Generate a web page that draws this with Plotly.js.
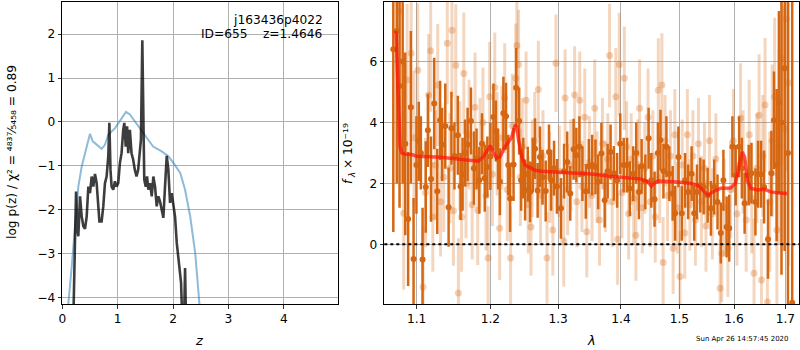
<!DOCTYPE html>
<html><head><meta charset="utf-8">
<script src="https://cdn.plot.ly/plotly-3.0.1.min.js"></script>
<style>html,body{margin:0;padding:0;background:#fff}#plot{width:800px;height:350px}</style>
</head><body><div id="plot"></div>
<script>
// ---- left panel: log p(z) ----
const pzZ = [0.199,0.217,0.248,0.271,0.289,0.32,0.35,0.38,0.41,0.44,0.47,0.50,0.53,0.56,0.59,0.62,0.65,0.67,0.71,0.74,0.77,0.80,0.83,0.85,0.87,0.89,0.92,0.95,0.98,1.01,1.04,1.07,1.10,1.12,1.145,1.17,1.19,1.22,1.25,1.28,1.31,1.34,1.37,1.40,1.42,1.445,1.463,1.48,1.507,1.53,1.554,1.585,1.615,1.644,1.675,1.705,1.735,1.765,1.796,1.825,1.855,1.886,1.915,1.946,1.976,2.006,2.036,2.067,2.096,2.127,2.145,2.168,2.198,2.217,2.235];
const pzLog = [-4.5,-3.21,-1.58,-2.45,-2.60,-1.69,-2.15,-2.37,-2.43,-2.15,-1.47,-1.62,-1.24,-1.47,-1.18,-1.39,-1.84,-2.26,-2.26,-1.92,-1.39,-1.24,-0.78,-0.02,-1.09,-1.47,-1.54,-1.35,-1.47,-1.39,-0.93,-0.71,-0.18,-0.02,-0.56,-0.10,-0.71,-0.18,-0.71,-0.86,-1.09,-1.24,-1.09,-0.56,-0.40,1.86,-0.40,-1.31,-1.47,-1.24,-1.54,-1.39,-1.69,-1.24,-1.47,-1.92,-1.69,-1.81,-2.0,-2.18,-1.47,-0.77,-1.09,-1.84,-1.62,-1.92,-2.15,-2.75,-3.13,-3.36,-3.66,-4.6,-4.6,-3.32,-4.6];
const priorZ = [0.08,0.108,0.17,0.229,0.289,0.35,0.41,0.47,0.50,0.549,0.62,0.71,0.77,0.83,0.952,1.073,1.15,1.22,1.31,1.40,1.52,1.64,1.795,1.915,2.006,2.13,2.217,2.31,2.40,2.475,2.52];
const priorLog = [-4.8,-4.14,-3.29,-2.37,-1.47,-1.01,-0.71,-0.40,-0.27,-0.44,-0.52,-0.61,-0.52,-0.29,-0.14,0.09,0.23,0.17,0.01,-0.14,-0.36,-0.56,-0.67,-0.78,-0.93,-1.16,-1.54,-2.15,-2.98,-4.14,-4.8];
const zTicks = [0,1,2,3,4];
const logTicks = [-4,-3,-2,-1,0,1,2];

// ---- right panel: spectrum ----
const darkLam = [1.0701,1.0745,1.078,1.082,1.0853,1.089,1.0925,1.096,1.0997,1.1028,1.1055,1.1077,1.1119,1.1147,1.1188,1.123,1.1271,1.1309,1.1336,1.1378,1.1423,1.1461,1.1502,1.1548,1.1585,1.1613,1.1647,1.1682,1.1728,1.1769,1.1806,1.1844,1.1882,1.1921,1.1958,1.2,1.2044,1.2078,1.211,1.2136,1.2186,1.2224,1.2256,1.2283,1.2333,1.2371,1.2415,1.2444,1.2476,1.2503,1.2542,1.2576,1.2616,1.265,1.2689,1.2723,1.2762,1.281,1.286,1.2893,1.2937,1.2981,1.3043,1.3091,1.3139,1.3187,1.3239,1.3282,1.333,1.3378,1.3431,1.3479,1.3533,1.3585,1.3629,1.3681,1.3734,1.3782,1.383,1.3884,1.3937,1.3989,1.4046,1.4102,1.4148,1.4204,1.4255,1.4301,1.4346,1.4409,1.4465,1.4511,1.4567,1.4625,1.4669,1.472,1.4772,1.4823,1.4881,1.4925,1.4983,1.5042,1.5102,1.5156,1.5218,1.5265,1.5315,1.5375,1.5436,1.5509,1.5569,1.5629,1.5691,1.5751,1.58,1.586,1.5909,1.5969,1.6031,1.6097,1.6148,1.6201,1.6279,1.6331,1.6409,1.646,1.6519,1.6577,1.6655,1.6721,1.6772,1.6825,1.687,1.6922,1.6986,1.7051,1.7137];
const darkFlux = [6.4,7.0,5.2,6.0,3.3,0.83,4.5,-0.48,2.6,3.38,3.0,-0.5,1.88,3.74,2.14,4.62,1.74,4.07,3.28,3.88,1.22,3.81,2.9,3.58,1.9,2.3,3.0,3.28,4.05,2.5,2.8,2.1,3.3,2.17,2.54,2.88,4.18,3.72,2.8,2.05,4.3,4.2,2.6,1.5,2.62,5.14,4.05,2.1,2.5,1.78,2.3,1.72,2.6,3.14,1.77,2.87,2.2,1.75,3.03,2.1,2.5,1.9,1.18,2.4,2.7,1.67,3.12,2.93,3.2,2.32,1.74,2.56,2.6,2.54,2.05,2.98,1.45,2.4,3.03,2.33,2.1,3.3,2.6,2.6,1.83,2.32,3.0,1.72,2.56,2.05,3.48,2.1,1.48,3.0,3.42,2.4,3.2,2.32,1.67,1.02,2.87,1.02,2.1,1.72,2.32,1.02,1.72,1.94,1.88,1.61,1.18,1.88,1.39,0.37,2.1,0.57,0.53,3.2,2.27,3.2,2.5,1.35,2.27,2.33,1.39,2.3,2.3,1.88,0.17,2.33,4.07,2.6,4.66,4.0,5.78,3.0,-1.92];
const darkErr = [6,5,4,4,3,2.2,2.5,2.0,1.6,1.3,1.2,1.7,1.5,1.2,1.4,1.5,1.4,1.3,1.2,1.4,1.3,1.2,1.1,1.3,1.1,1.2,1.1,1.2,1.1,1.2,1.0,1.1,1.0,1.1,1.0,1.1,1.1,1.0,1.0,1.1,1.2,1.1,1.0,1.1,1.2,1.3,1.1,1.0,1.0,1.0,0.9,1.0,0.9,1.0,0.9,1.0,0.9,1.0,0.9,1.0,0.9,0.9,1.0,0.9,1.0,0.9,1.0,0.9,1.0,0.9,0.9,0.9,1.0,0.9,0.9,1.0,0.9,0.9,0.9,0.9,0.9,1.0,0.9,0.9,0.9,0.9,1.0,0.9,0.9,0.9,1.0,0.9,0.9,1.0,1.0,0.9,1.0,0.9,0.9,0.9,1.0,0.9,0.9,0.9,0.9,0.9,0.9,0.9,0.9,0.9,0.9,0.9,0.9,1.0,1.0,1.0,1.1,1.0,1.0,1.0,1.0,1.0,1.0,1.0,1.1,1.1,1.1,1.2,1.3,1.4,1.6,2.5,3,5,6,9,12];

const lightLam = [1.078,1.0833,1.0877,1.0929,1.0965,1.1015,1.1083,1.1115,1.1156,1.1184,1.1212,1.1246,1.1277,1.1315,1.1357,1.1405,1.144,1.1468,1.1488,1.152,1.1556,1.1577,1.1599,1.163,1.166,1.1702,1.1745,1.1785,1.1822,1.1855,1.1896,1.1938,1.1968,1.199,1.2029,1.2063,1.2095,1.2132,1.2165,1.2205,1.2242,1.229,1.2315,1.2366,1.2381,1.2406,1.2432,1.2461,1.2517,1.2549,1.259,1.2608,1.2645,1.2699,1.2732,1.2769,1.283,1.2871,1.2918,1.2966,1.3019,1.3086,1.3107,1.3147,1.3195,1.3255,1.329,1.3335,1.337,1.3415,1.3447,1.349,1.353,1.3574,1.361,1.365,1.3698,1.3746,1.3785,1.3813,1.3856,1.3915,1.3945,1.3973,1.4017,1.4056,1.4094,1.4128,1.417,1.4213,1.425,1.4281,1.4312,1.4358,1.44,1.4455,1.4494,1.4537,1.4579,1.4632,1.4656,1.4693,1.4715,1.4749,1.4792,1.4843,1.489,1.492,1.4963,1.5011,1.5051,1.5096,1.5142,1.5187,1.5242,1.5287,1.5342,1.5396,1.5451,1.5478,1.5542,1.5596,1.566,1.5738,1.577,1.5815,1.5884,1.5933,1.5987,1.6055,1.6123,1.6172,1.623,1.6289,1.6337,1.6382,1.6435,1.648,1.6526,1.6552,1.6597,1.6643,1.6688,1.6737,1.6786,1.683,1.6874,1.6922,1.6971,1.702,1.706];
const lightFlux = [7.65,1.02,5.39,6.27,3.5,5.71,-1.4,1.7,4.9,6.35,0.9,2.6,5.23,1.4,2.2,6.6,2.5,7.03,1.1,5.88,-1.6,2.9,0.9,5.61,2.0,3.6,1.3,4.5,1.12,3.0,4.0,1.6,-0.45,4.84,2.3,5.15,3.3,0.53,3.5,4.8,1.8,-0.45,3.9,5.45,6.53,5.9,2.2,3.2,4.73,1.3,0.57,2.5,3.4,5.08,1.6,2.9,-0.45,2.2,0.47,5.94,2.4,0.11,4.8,1.8,2.6,4.9,1.4,4.73,1.9,4.17,0.41,2.7,1.6,4.47,2.2,0.8,3.3,1.9,2.8,6.2,1.4,4.84,0.17,5.9,1.7,5.45,3.2,1.0,2.8,1.5,0.3,2.6,4.47,1.2,2.5,4.17,1.4,2.9,0.9,5.06,2.2,5.23,-0.6,3.4,1.6,2.9,-0.13,3.6,1.2,-1.06,2.6,0.37,3.6,1.3,2.9,0.8,3.3,1.4,2.5,0.6,3.4,1.0,2.8,-1.44,-0.3,1.2,-0.13,1.8,3.4,1.0,4.14,2.7,0.8,3.6,1.5,-0.95,2.5,4.24,-1.17,2.9,4.57,-1.89,1.4,3.4,4.84,0.47,3.2,6.1,3.8,7.4,5.3];
const lightErr = [3,2.5,2.5,2.5,2.2,2.2,2.0,1.8,2.0,2.0,1.8,1.8,2.0,1.8,1.8,2.0,1.8,2.2,1.8,2.0,1.8,1.8,1.8,2.0,1.8,1.8,1.8,1.8,1.8,1.8,1.8,1.8,1.7,1.8,1.7,1.8,1.7,1.7,1.7,1.8,1.7,1.7,1.7,1.8,1.8,1.8,1.6,1.6,1.6,1.6,1.6,1.6,1.6,1.6,1.6,1.5,1.5,1.5,1.5,1.6,1.5,1.5,1.6,1.5,1.5,1.6,1.5,1.6,1.5,1.6,1.5,1.5,1.5,1.6,1.5,1.5,1.5,1.5,1.5,1.7,1.5,1.6,1.5,1.7,1.5,1.7,1.5,1.5,1.5,1.5,1.5,1.5,1.6,1.5,1.5,1.6,1.5,1.5,1.5,1.7,1.5,1.7,1.5,1.5,1.5,1.5,1.5,1.5,1.5,1.5,1.5,1.5,1.5,1.5,1.5,1.5,1.5,1.5,1.5,1.5,1.5,1.5,1.5,1.6,1.6,1.6,1.6,1.6,1.7,1.7,1.8,1.7,1.7,1.8,1.8,1.8,1.8,2.0,2.0,2.0,2.2,2.2,2.3,2.5,2.6,2.8,3.2,3.5,4,5,6];

const modelLam = [1.0735,1.0765,1.0787,1.0808,1.0844,1.0932,1.1,1.1322,1.1553,1.1829,1.1899,1.1968,1.2,1.204,1.2088,1.2136,1.2209,1.2259,1.2307,1.2356,1.2381,1.2406,1.2454,1.2503,1.2552,1.265,1.2747,1.2991,1.3255,1.3574,1.3788,1.4056,1.4341,1.4455,1.4511,1.4567,1.4625,1.4908,1.5205,1.5327,1.5447,1.552,1.56,1.5751,1.5933,1.6025,1.609,1.6156,1.6201,1.6253,1.6318,1.6448,1.6577,1.6708,1.6839,1.7035];
const modelFlux = [7.0,5.0,3.2,3.0,2.96,2.95,2.89,2.86,2.79,2.73,2.87,3.15,3.24,3.03,2.83,2.87,3.2,3.36,3.52,3.92,3.85,3.42,2.87,2.6,2.54,2.43,2.4,2.37,2.34,2.3,2.24,2.2,2.14,2.05,1.91,2.01,2.08,2.05,2.0,1.94,1.72,1.61,1.72,1.84,1.85,2.0,2.54,3.03,2.87,2.1,1.84,1.78,1.81,1.72,1.69,1.67];
const ZERO_LEVEL = 0;
const lamTicks = [1.1,1.2,1.3,1.4,1.5,1.6,1.7];
const fluxTicks = [0,2,4,6];

const objName = 'j163436p4022';
const objInfo = 'ID=655\u00a0\u00a0\u00a0\u00a0z=1.4646';
const stamp = 'Sun Apr 26 14:57:45 2020';
const leftTitle = 'log p(z) / χ² = ⁴⁸³⁷⁄₅₄₅₈ = 0.89';

const ORANGE = 'rgb(214,103,18)';
const ORANGE_LIGHT = 'rgba(214,103,18,0.27)';
const ORANGE_LIGHT_M = 'rgba(214,103,18,0.3)';
const FS = 12.2;

const traces = [
  {x: priorZ, y: priorLog, xaxis:'x', yaxis:'y', mode:'lines', line:{color:'rgba(31,119,180,0.5)', width:2}, hoverinfo:'skip'},
  {x: pzZ, y: pzLog, xaxis:'x', yaxis:'y', mode:'lines', line:{color:'rgba(0,0,0,0.76)', width:2.6}, hoverinfo:'skip'},
  {x: lightLam, y: lightFlux, xaxis:'x2', yaxis:'y2', mode:'markers', type:'scatter',
   marker:{color:ORANGE_LIGHT_M, size:7},
   error_y:{type:'data', array:lightErr, visible:true, color:ORANGE_LIGHT, thickness:3, width:0}},
  {x: darkLam, y: darkFlux, xaxis:'x2', yaxis:'y2', mode:'markers', type:'scatter',
   marker:{color:ORANGE, size:6},
   error_y:{type:'data', array:darkErr, visible:true, color:ORANGE, thickness:2.5, width:0}},
  {x: modelLam, y: modelFlux, xaxis:'x2', yaxis:'y2', mode:'lines', line:{color:'rgba(255,20,10,0.72)', width:3.5}}
];

const axBase = {showline:true, mirror:true, linecolor:'#000', linewidth:1, ticks:'outside', ticklen:3.5, tickwidth:0.8, tickcolor:'#000',
  showgrid:true, gridcolor:'#b0b0b0', gridwidth:1, zeroline:false, tickfont:{size:FS, color:'#000'}};

const P = (px)=>px/800, Q = (py)=>1-py/350;
const ann = (text, x, y, opts)=>Object.assign({text, xref:'paper', yref:'paper', x:P(x), y:Q(y), xanchor:'center', yanchor:'middle', showarrow:false, font:{size:FS}}, opts||{});

const layout = {
  width:800, height:350, margin:{l:0,r:0,t:0,b:0}, paper_bgcolor:'#fff', plot_bgcolor:'#fff', showlegend:false,
  font:{family:'DejaVu Sans', color:'#000', size:FS},
  xaxis: Object.assign({}, axBase, {domain:[0.0779,0.4229], range:[0,4.985], tickvals:zTicks, anchor:'y'}),
  yaxis: Object.assign({}, axBase, {domain:[0.1314,0.9957], range:[-4.14,2.74], tickvals:logTicks, ticktext:logTicks.map(v=>v<0?'\u2212'+Math.abs(v):String(v)), anchor:'x'}),
  xaxis2: Object.assign({}, axBase, {domain:[0.4804,0.99875], type:'log', range:[Math.log10(1.0588), Math.log10(1.7275)], tickvals:lamTicks, ticktext:lamTicks.map(v=>v.toFixed(1)), anchor:'y2'}),
  yaxis2: Object.assign({}, axBase, {domain:[0.1314,0.9957], range:[-1.96,7.97], tickvals:fluxTicks, anchor:'x2'}),
  shapes:[{type:'line', xref:'x2 domain', yref:'y2', x0:0, x1:1, y0:ZERO_LEVEL, y1:ZERO_LEVEL, line:{color:'#000', width:2, dash:'dot'}, layer:'above'}],
  annotations:[
    ann(objName, 278.4, 20),
    ann(objInfo, 261.7, 34),
    ann(leftTitle, 12, 152, {textangle:-90}),
    ann('z', 199, 340, {font:{size:13, style:'italic'}}),
    ann('f', 348, 181, {textangle:-90, font:{size:FS, style:'italic'}}),
    ann('λ', 351.5, 175.5, {textangle:-90, font:{size:8.5, style:'italic'}}),
    ann('× 10⁻¹⁹', 348, 146, {textangle:-90}),
    ann('λ', 591, 340, {font:{size:13, style:'italic'}}),
    ann(stamp, 742.5, 339, {font:{size:7}})
  ]
};

Plotly.newPlot('plot', traces, layout, {displayModeBar:false, staticPlot:true});
</script></body></html>
